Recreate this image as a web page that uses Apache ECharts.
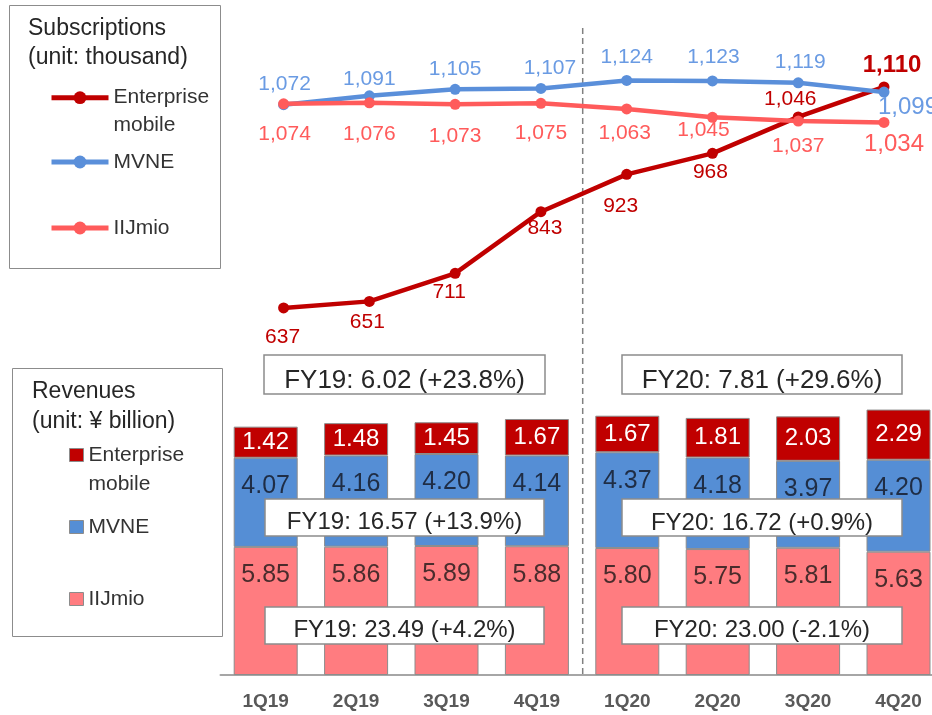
<!DOCTYPE html>
<html><head><meta charset="utf-8">
<script src="https://cdn.jsdelivr.net/npm/echarts@6/dist/echarts.min.js"></script>
<style>html,body{margin:0;padding:0;background:#fff}#c{width:932px;height:715px}</style>
</head><body><div id="c"></div>
<script>
// ---- data ----
const quarters = ['1Q19','2Q19','3Q19','4Q19','1Q20','2Q20','3Q20','4Q20'];
const subsEnterprise = [637, 651, 711, 843, 923, 968, 1046, 1110];
const subsMVNE = [1072, 1091, 1105, 1107, 1124, 1123, 1119, 1099];
const subsIIJmio = [1074, 1076, 1073, 1075, 1063, 1045, 1037, 1034];
const revEnterprise = [1.42, 1.48, 1.45, 1.67, 1.67, 1.81, 2.03, 2.29];
const revMVNE = [4.07, 4.16, 4.20, 4.14, 4.37, 4.18, 3.97, 4.20];
const revIIJmio = [5.85, 5.86, 5.89, 5.88, 5.80, 5.75, 5.81, 5.63];
const seriesNames = ['Enterprise mobile', 'MVNE', 'IIJmio'];
const fyNotes = ['FY19: 6.02 (+23.8%)', 'FY20: 7.81 (+29.6%)', 'FY19: 16.57 (+13.9%)', 'FY20: 16.72 (+0.9%)', 'FY19: 23.49 (+4.2%)', 'FY20: 23.00 (-2.1%)'];
const subsTitle = ['Subscriptions', '(unit: thousand)'];
const revTitle = ['Revenues', '(unit: ¥ billion)'];

// ---- styles (label offsets relative to points) ----
const entOff = [[-1,29],[-2,21],[-6,19],[4,17],[-6,32],[-2,19],[-8,-18],[8,-22]];
const mvneOff = [[1,-21],[0,-17],[0,-20],[9,-20],[0,-23],[1,-24],[2,-21],[24,15]];
const iijOff = [[1,30],[0,31],[0,32],[0,30],[-2,24],[-9,13],[0,25],[10,22]];

const FONT = '"Liberation Sans", Arial, sans-serif';
const C_ENT = '#C00000', C_MVNE_L = '#5A8FDA', C_IIJ_L = '#FF5B5B';
const C_MVNE_B = '#558ED5', C_IIJ_B = '#FF7C80';
const fmtK = v => String(v).replace(/\B(?=(\d{3})+(?!\d))/g, ',');

function lineData(vals, offs, big) {
  return vals.map((v, i) => {
    const lab = {offset: offs[i]};
    if (i === vals.length - 1) Object.assign(lab, big);
    return {value: v, label: lab};
  });
}

function lineSeries(name, vals, offs, color, labelColor, big) {
  return {
    type: 'line', name: name, xAxisIndex: 1, yAxisIndex: 1,
    data: lineData(vals, offs, big),
    symbol: 'circle', symbolSize: 11,
    lineStyle: {width: 4.5, color: color},
    itemStyle: {color: color},
    label: {show: true, position: 'inside', color: labelColor, fontSize: 21, fontFamily: FONT,
      formatter: p => fmtK(p.value)},
    z: 5
  };
}

function barSeries(name, vals, color, label) {
  return {
    type: 'bar', name: 'rev:' + name, stack: 'rev', xAxisIndex: 0, yAxisIndex: 0,
    data: vals, barWidth: 64,
    itemStyle: {color: color, borderColor: '#8c8c8c', borderWidth: 1},
    label: Object.assign({show: true, fontFamily: FONT, formatter: p => p.value.toFixed(2)}, label)
  };
}

const lineLegendBase = {
  orient: 'vertical', padding: 0, itemWidth: 57, itemHeight: 16, itemGap: 0, selectedMode: false,
  lineStyle: {width: 5},
  textStyle: {fontSize: 21, color: '#333', lineHeight: 28, fontFamily: FONT}
};
const barLegendBase = {
  orient: 'vertical', padding: 0, itemWidth: 14, itemHeight: 13, itemGap: 0, selectedMode: false, icon: 'rect',
  itemStyle: {borderColor: '#8c8c8c', borderWidth: 1},
  textStyle: {fontSize: 21, color: '#333', lineHeight: 29, fontFamily: FONT}
};
const legendFmt = name => {
  const n = name.replace('rev:', '');
  return n === 'Enterprise mobile' ? ' \nEnterprise\nmobile' : n;
};

function box(x, y, w, h, text, fs, ty) {
  return {
    type: 'group', z: 100, children: [
      {type: 'rect', shape: {x: x, y: y, width: w, height: h}, style: {fill: '#fff', stroke: '#8c8c8c', lineWidth: 1.5}, z: 100},
      {type: 'text', style: {text: text, x: x + w / 2, y: ty, align: 'center', verticalAlign: 'middle',
        fontSize: fs, fontFamily: FONT, fill: '#262626'}, z: 101}
    ]
  };
}

const option = {
  backgroundColor: '#fff',
  animation: false,
  title: [
    {text: subsTitle.join('\n'), left: 28, top: 14.5, padding: 0,
      textStyle: {fontSize: 23, fontWeight: 'normal', color: '#262626', lineHeight: 29, fontFamily: FONT}},
    {text: revTitle.join('\n'), left: 32, top: 377, padding: 0,
      textStyle: {fontSize: 23, fontWeight: 'normal', color: '#262626', lineHeight: 30, fontFamily: FONT}}
  ],
  legend: [
    Object.assign({}, lineLegendBase, {data: [seriesNames[0]], left: 49, top: 55.7, formatter: legendFmt}),
    Object.assign({}, lineLegendBase, {data: [seriesNames[1]], left: 49, top: 148, formatter: legendFmt}),
    Object.assign({}, lineLegendBase, {data: [seriesNames[2]], left: 49, top: 214, formatter: legendFmt}),
    Object.assign({}, barLegendBase, {data: ['rev:' + seriesNames[0]], left: 69, top: 411.5, formatter: legendFmt}),
    Object.assign({}, barLegendBase, {data: ['rev:' + seriesNames[1]], left: 69, top: 512.5, formatter: legendFmt}),
    Object.assign({}, barLegendBase, {data: ['rev:' + seriesNames[2]], left: 69, top: 584.5, formatter: legendFmt})
  ],
  grid: [
    {left: 220.5, top: 390.3, width: 723.2, height: 284.7, outerBoundsMode: 'none', containLabel: false},
    {left: 283.6, top: 68.3, width: 600.4, height: 256.9, outerBoundsMode: 'none', containLabel: false}
  ],
  xAxis: [
    {type: 'category', gridIndex: 0, data: quarters,
      axisLine: {lineStyle: {color: '#a6a6a6', width: 2}}, axisTick: {show: false},
      axisLabel: {color: '#595959', fontSize: 19, fontWeight: 'bold', margin: 17, fontFamily: FONT}},
    {type: 'category', gridIndex: 1, data: quarters, boundaryGap: false, show: false}
  ],
  yAxis: [
    {type: 'value', gridIndex: 0, min: 0, max: 13, show: false},
    {type: 'value', gridIndex: 1, min: 600, max: 1150, show: false}
  ],
  series: [
    barSeries(seriesNames[2], revIIJmio, C_IIJ_B, {position: 'insideTop', distance: 16, color: '#4a2c2c', fontSize: 25}),
    barSeries(seriesNames[1], revMVNE, C_MVNE_B, {position: 'insideTop', distance: 16, color: '#1f2d45', fontSize: 25}),
    barSeries(seriesNames[0], revEnterprise, C_ENT, {position: 'inside', color: '#fff', fontSize: 24}),
    lineSeries(seriesNames[0], subsEnterprise, entOff, C_ENT, C_ENT, {fontSize: 24, fontWeight: 'bold'}),
    lineSeries(seriesNames[1], subsMVNE, mvneOff, C_MVNE_L, '#6A9BE3', {fontSize: 24}),
    lineSeries(seriesNames[2], subsIIJmio, iijOff, C_IIJ_L, C_IIJ_L, {fontSize: 24})
  ],
  graphic: [
    {type: 'rect', shape: {x: 9.5, y: 5.5, width: 211, height: 263}, style: {fill: 'none', stroke: '#8c8c8c', lineWidth: 1}},
    {type: 'rect', shape: {x: 12.5, y: 368.5, width: 210, height: 268}, style: {fill: 'none', stroke: '#8c8c8c', lineWidth: 1}},
    {type: 'line', shape: {x1: 582.7, y1: 28, x2: 582.7, y2: 675}, style: {stroke: '#808080', lineWidth: 1.5, lineDash: [6, 4]}, z: 1},
    box(264, 355, 281, 39, fyNotes[0], 26, 381),
    box(622, 355, 280, 39, fyNotes[1], 26, 381),
    box(265, 499, 279, 37, fyNotes[2], 24, 522),
    box(622, 499, 280, 37, fyNotes[3], 24, 523),
    box(265, 607, 279, 37, fyNotes[4], 24, 630),
    box(622, 607, 280, 37, fyNotes[5], 24, 630)
  ]
};

const chart = echarts.init(document.getElementById('c'), null, {renderer: 'canvas'});
chart.setOption(option);
</script></body></html>
